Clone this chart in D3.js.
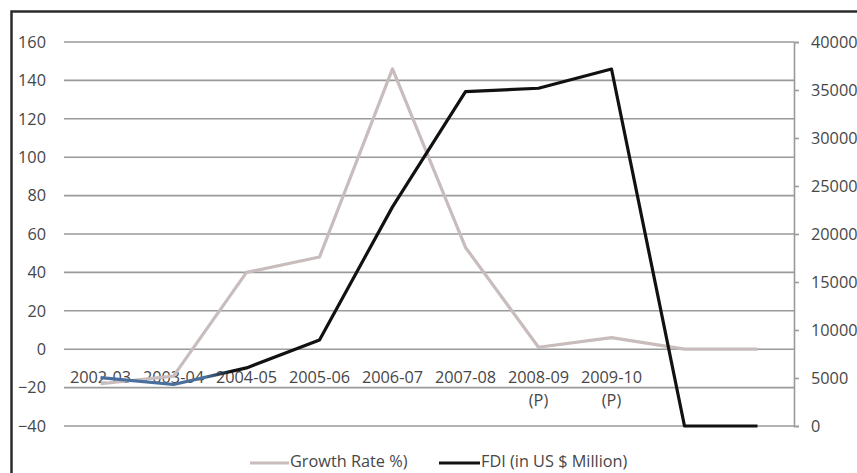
<!DOCTYPE html>
<html>
<head>
<meta charset="utf-8">
<script src="https://cdn.jsdelivr.net/npm/d3@7"></script>
<style>
  html, body { margin: 0; padding: 0; background: #fff; }
  svg { display: block; }
  text { font-family: "Open Sans", "Liberation Sans", sans-serif; fill: #474747; }
</style>
</head>
<body>
<svg id="chart" width="857" height="473"></svg>
<script>
// Financial years (second line marks provisional figures)
const years = ["2002-03", "2003-04", "2004-05", "2005-06", "2006-07", "2007-08", "2008-09", "2009-10", "", ""];
const yearNotes = ["", "", "", "", "", "", "(P)", "(P)", "", ""];
// Year-on-year growth rate of FDI inflows, %
const growthRate = [-18, -14, 40, 48, 146, 53, 1, 6, 0, 0];
// FDI inflows, US $ million
const fdi = [5035, 4322, 6051, 8961, 22826, 34835, 35180, 37182, 0, 0];
// Axis ticks
const leftTicks = [-40, -20, 0, 20, 40, 60, 80, 100, 120, 140, 160];
const rightTicks = [0, 5000, 10000, 15000, 20000, 25000, 30000, 35000, 40000];

const fontSize = 16.3;
const svg = d3.select("#chart");
const plot = { left: 64, right: 794, top: 42, bottom: 426 };

// outer frame (extends past the bottom/right edges of the view)
svg.append("rect")
  .attr("x", 11.5).attr("y", 11.5)
  .attr("width", 900).attr("height", 520)
  .attr("fill", "none").attr("stroke", "#2b2b2b").attr("stroke-width", 2.5);

const x = d3.scaleBand().domain(d3.range(years.length)).range([plot.left, plot.right]);
const xc = i => x(i) + x.bandwidth() / 2;
const yL = d3.scaleLinear().domain([-40, 160]).range([plot.bottom, plot.top]);
const yR = d3.scaleLinear().domain([0, 40000]).range([plot.bottom, plot.top]);

// horizontal gridlines on the left scale
svg.append("g").selectAll("line").data(leftTicks).join("line")
  .attr("x1", plot.left).attr("x2", plot.right)
  .attr("y1", d => yL(d)).attr("y2", d => yL(d))
  .attr("stroke", "#9a9a9a").attr("stroke-width", 1.6);

// left axis labels
const leftAxis = d3.axisLeft(yL).tickValues(leftTicks).tickSize(0).tickPadding(18);
const gl = svg.append("g").attr("transform", `translate(${plot.left},0)`).call(leftAxis);
gl.select(".domain").remove();
gl.selectAll("text").attr("font-size", fontSize).attr("fill", "#474747")
  .attr("font-family", "'Open Sans', sans-serif");

// right axis
const rightAxis = d3.axisRight(yR).tickValues(rightTicks).tickSize(5).tickPadding(12).tickFormat(d3.format("d"));
const gr = svg.append("g").attr("transform", `translate(${plot.right},0)`).call(rightAxis);
gr.select(".domain").attr("stroke", "#9a9a9a").attr("stroke-width", 1.6);
gr.selectAll(".tick line").attr("stroke", "#9a9a9a").attr("stroke-width", 1.6);
gr.selectAll("text").attr("font-size", fontSize).attr("fill", "#474747")
  .attr("font-family", "'Open Sans', sans-serif");

// category labels, drawn at the level of the horizontal axis band
const labelY = yL(-15.5);
const cats = svg.append("g");
cats.selectAll("text.yr").data(years).join("text")
  .attr("class", "yr")
  .attr("x", (d, i) => xc(i)).attr("y", labelY)
  .attr("text-anchor", "middle").attr("dominant-baseline", "middle")
  .attr("font-size", fontSize).text(d => d);
cats.selectAll("text.note").data(yearNotes).join("text")
  .attr("class", "note")
  .attr("x", (d, i) => xc(i)).attr("y", labelY + 23)
  .attr("text-anchor", "middle").attr("dominant-baseline", "middle")
  .attr("font-size", fontSize).text(d => d);

// growth rate line (left scale)
const lineL = d3.line().x((d, i) => xc(i)).y(d => yL(d));
svg.append("path").datum(growthRate)
  .attr("d", lineL)
  .attr("fill", "none").attr("stroke", "#c8bcbc").attr("stroke-width", 3.2)
  .attr("stroke-linejoin", "round");

// FDI line (right scale); the early stretch is drawn in a blue tone
const defs = svg.append("defs");
const grad = defs.append("linearGradient").attr("id", "fdiStroke")
  .attr("gradientUnits", "userSpaceOnUse")
  .attr("x1", xc(0)).attr("x2", xc(2)).attr("y1", 0).attr("y2", 0);
grad.append("stop").attr("offset", 0).attr("stop-color", "#4a6f9c");
grad.append("stop").attr("offset", 0.72).attr("stop-color", "#4a6f9c");
grad.append("stop").attr("offset", 0.9).attr("stop-color", "#111");
grad.append("stop").attr("offset", 1).attr("stop-color", "#111");

const lineR = d3.line().x((d, i) => xc(i)).y(d => yR(d));
svg.append("path").datum(fdi)
  .attr("d", lineR)
  .attr("fill", "none").attr("stroke", "url(#fdiStroke)").attr("stroke-width", 3.2)
  .attr("stroke-linejoin", "round");

// legend
const legendY = 463;
const legend = [
  { label: "Growth Rate %)", color: "#c8bcbc", x0: 250, x1: 289 },
  { label: "FDI (in US $ Million)", color: "#111", x0: 439, x1: 480 }
];
const lg = svg.append("g");
lg.selectAll("line").data(legend).join("line")
  .attr("x1", d => d.x0).attr("x2", d => d.x1)
  .attr("y1", legendY).attr("y2", legendY)
  .attr("stroke", d => d.color).attr("stroke-width", 3.2);
lg.selectAll("text").data(legend).join("text")
  .attr("x", d => d.x1 + 1).attr("y", legendY)
  .attr("dominant-baseline", "middle")
  .attr("font-size", fontSize).text(d => d.label);
</script>
</body>
</html>
